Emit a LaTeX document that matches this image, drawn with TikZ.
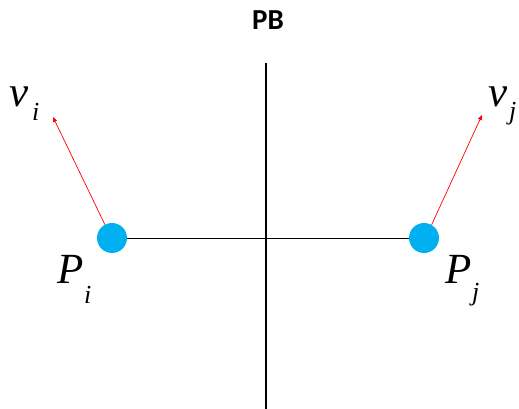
\documentclass[tikz,border=0pt]{standalone}
\usepackage{fontspec}
\setmainfont{Liberation Serif}
\newfontfamily\labfont{Carlito}
\usetikzlibrary{arrows.meta}
\definecolor{ptblue}{RGB}{0,176,240}
\tikzset{
  pt/.style={circle,fill=ptblue,minimum size=30pt,inner sep=0pt},
  vel/.style={draw=red,line width=0.7pt,-{Triangle[length=5pt,width=4pt]}},
  axis/.style={draw=black,line width=1.1pt},
  lab/.style={anchor=base west,inner sep=0pt,font=\fontsize{43}{43}\selectfont\itshape},
  sub/.style={anchor=base west,inner sep=0pt,font=\fontsize{26}{26}\selectfont\itshape}
}
\begin{document}
\begin{tikzpicture}[x=1pt,y=-1pt]
\useasboundingbox (0,0) rectangle (519,409);
\node[font=\labfont\bfseries\fontsize{29}{29}\selectfont] (pb) at (268,20) {PB};
\coordinate (top) at (266,63);
\coordinate (bot) at (266,409);
\draw[axis] (top) -- (bot);
\node[pt] (pi) at (112,238) {};
\node[pt] (pj) at (424,238) {};
\draw[line width=0.9pt] (pi) -- (pj);
\coordinate (vie) at (53,117);
\coordinate (vje) at (482,115);
\draw[vel] (pi.118) -- (vie);
\draw[vel] (pj.60) -- (vje);
\node[lab] (vi) at (9,107) {v};
\node[sub] (vis) at (32,121) {i};
\node[lab] (vj) at (488,107) {v};
\node[sub] (vjs) at (509,120) {j};
\node[lab] (Pi) at (57,283) {P};
\node[sub] (Pis) at (84,303) {i};
\node[lab] (Pj) at (445,283) {P};
\node[sub] (Pjs) at (472,300) {j};
\end{tikzpicture}
\end{document}
